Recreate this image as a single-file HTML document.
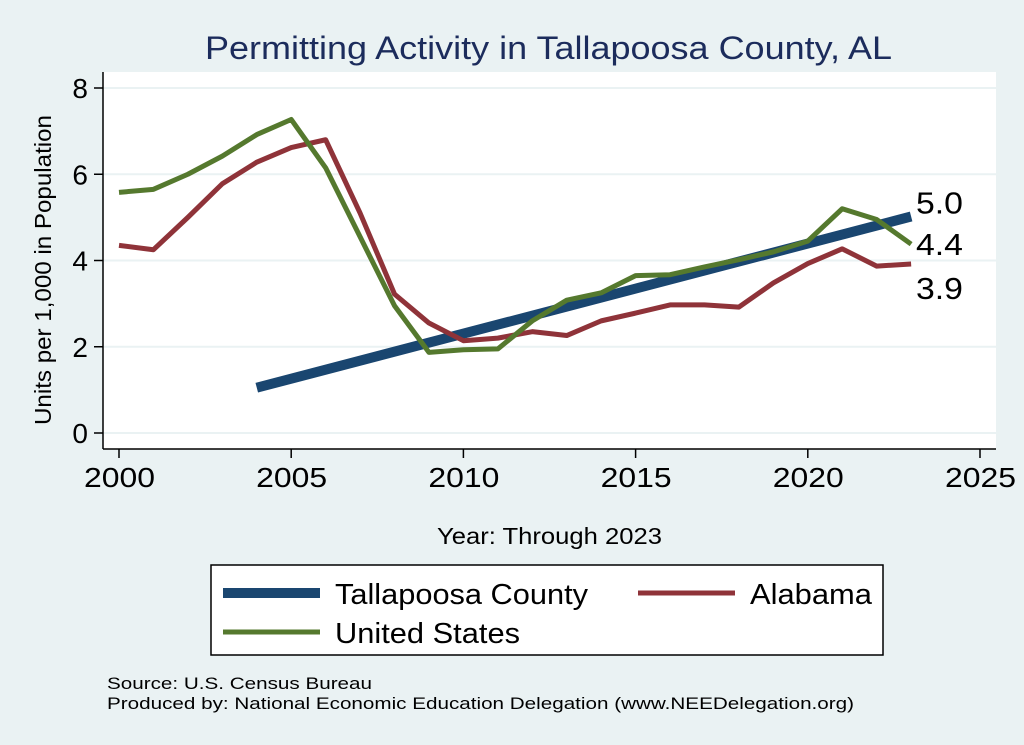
<!DOCTYPE html>
<html><head><meta charset="utf-8"><style>
body{margin:0;background:#eaf2f3;}
svg{display:block;font-family:"Liberation Sans",Arial,sans-serif;}
</style></head><body>
<svg id="chart" width="1024" height="745" viewBox="0 0 1024 745" xmlns="http://www.w3.org/2000/svg">
<rect x="0" y="0" width="1024" height="745" fill="#eaf2f3"/>
<text x="205" y="59" font-size="32" textLength="687" lengthAdjust="spacingAndGlyphs" fill="#1c2c5c">Permitting Activity in Tallapoosa County, AL</text>
<rect x="103" y="72" width="893" height="377" fill="#fff"/>
<g id="grid"></g>
<g id="series"></g>
<line x1="103" y1="72" x2="103" y2="449" stroke="#000" stroke-width="1.5"/>
<line x1="103" y1="449" x2="996" y2="449" stroke="#000" stroke-width="1.5"/>
<g id="ticks"></g>
<text transform="translate(51,425) rotate(-90)" font-size="23" textLength="310" lengthAdjust="spacingAndGlyphs" fill="#000">Units per 1,000 in Population</text>
<text x="437" y="544" font-size="23" textLength="225" lengthAdjust="spacingAndGlyphs" fill="#000">Year: Through 2023</text>
<g>
<rect x="211" y="565" width="672" height="90" fill="#fff" stroke="#000" stroke-width="1.5"/>
<line x1="223" y1="593" x2="320" y2="593" stroke="#1a4670" stroke-width="10"/>
<text x="335" y="604" font-size="29" textLength="253" lengthAdjust="spacingAndGlyphs">Tallapoosa County</text>
<line x1="638" y1="593" x2="735" y2="593" stroke="#8f3339" stroke-width="5"/>
<text x="750" y="604" font-size="29" textLength="122" lengthAdjust="spacingAndGlyphs">Alabama</text>
<line x1="223" y1="632" x2="320" y2="632" stroke="#55792e" stroke-width="5"/>
<text x="335" y="643" font-size="29" textLength="185" lengthAdjust="spacingAndGlyphs">United States</text>
</g>
<text x="107" y="689" font-size="17" textLength="265" lengthAdjust="spacingAndGlyphs">Source: U.S. Census Bureau</text>
<text x="107" y="709" font-size="17" textLength="747" lengthAdjust="spacingAndGlyphs">Produced by: National Economic Education Delegation (www.NEEDelegation.org)</text>
</svg>
<script>
const years=[2000,2001,2002,2003,2004,2005,2006,2007,2008,2009,2010,2011,2012,2013,2014,2015,2016,2017,2018,2019,2020,2021,2022,2023];
const countyYears=[2004,2023];
const countyValues=[1.05,5.02];
const alabamaValues=[4.35,4.25,5.0,5.78,6.28,6.62,6.8,5.1,3.22,2.55,2.14,2.2,2.35,2.26,2.6,2.78,2.97,2.97,2.92,3.48,3.93,4.27,3.87,3.92];
const usValues=[5.58,5.65,6.0,6.42,6.92,7.27,6.15,4.55,2.95,1.87,1.93,1.95,2.6,3.08,3.25,3.65,3.67,3.85,4.02,4.2,4.45,5.2,4.95,4.38];
const yTicks=[0,2,4,6,8];
const xTicks=[2000,2005,2010,2015,2020,2025];
const NS="http://www.w3.org/2000/svg";
const xs=v=>119+(v-2000)*(980-119)/25;
const ys=v=>433-v*(433-88)/8;
function mk(tag,attrs,parent){const e=document.createElementNS(NS,tag);for(const k in attrs)e.setAttribute(k,attrs[k]);document.getElementById(parent).appendChild(e);return e;}
yTicks.forEach(t=>{
 let g=mk('line',{x1:103,x2:996,y1:ys(t),y2:ys(t),stroke:'#eaf2f3','stroke-width':2},'grid');
 
 
 let l=mk('line',{x1:94,x2:103,y1:ys(t),y2:ys(t),stroke:'#000','stroke-width':1.5},'ticks');
 
 
 let tx=mk('text',{x:88,y:ys(t)+10,'text-anchor':'end','font-size':28},'ticks');
 tx.textContent=t;
 
 
});
xTicks.forEach(t=>{
 let l=mk('line',{x1:xs(t),x2:xs(t),y1:449,y2:458,stroke:'#000','stroke-width':1.5},'ticks');
 
 
 let tx=mk('text',{x:xs(t)-35,y:487,'font-size':28,textLength:71,lengthAdjust:'spacingAndGlyphs'},'ticks');
 tx.textContent=t;
 
 
});
function line(xv,yv,color,w,name){
 let p=mk('polyline',{points:xv.map((x,i)=>xs(x)+','+ys(yv[i])).join(' '),fill:'none',stroke:color,'stroke-width':w,'stroke-linejoin':'round'},'series');
 
 
}
line(countyYears,countyValues,'#1a4670',10,'line-tallapoosa');
line(years,alabamaValues,'#8f3339',5,'line-alabama');
line(years,usValues,'#55792e',5,'line-united-states');
function lab(v,dy,name){
 let t=mk('text',{x:916,y:ys(v)+dy,'font-size':31,textLength:47,lengthAdjust:'spacingAndGlyphs'},'series');
 t.textContent=v.toFixed(1);
 
 
}
lab(countyValues[countyValues.length-1],-3,'end-label-tallapoosa');
lab(usValues[usValues.length-1],11,'end-label-us');
lab(alabamaValues[alabamaValues.length-1],35,'end-label-alabama');
</script>
</body></html>
